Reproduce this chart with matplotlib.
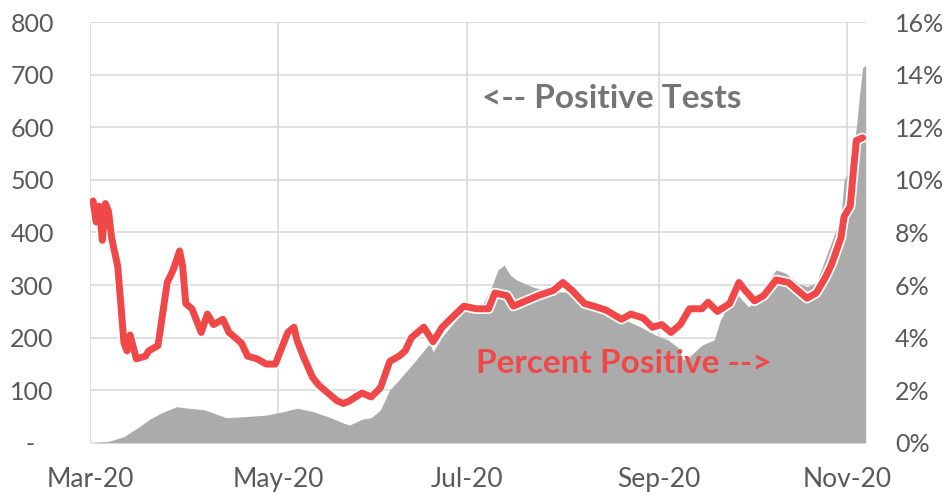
import matplotlib.pyplot as plt
import matplotlib.dates as mdates
import matplotlib.patheffects as pe
import pandas as pd
from matplotlib.ticker import FixedLocator

plt.rcParams['font.family'] = ['Lato', 'DejaVu Sans']

# positive tests (left axis)
test_dates = ['2020-03-01', '2020-03-07', '2020-03-12', '2020-03-17', '2020-03-20',
              '2020-03-24', '2020-03-29', '2020-04-02', '2020-04-07', '2020-04-10',
              '2020-04-14', '2020-04-20', '2020-04-27', '2020-05-03', '2020-05-07',
              '2020-05-12', '2020-05-17', '2020-05-22', '2020-05-24', '2020-05-28',
              '2020-05-31', '2020-06-03', '2020-06-06', '2020-06-09', '2020-06-14',
              '2020-06-19', '2020-06-20', '2020-06-23', '2020-06-28', '2020-07-01',
              '2020-07-06', '2020-07-09', '2020-07-11', '2020-07-13', '2020-07-15',
              '2020-07-17', '2020-07-22', '2020-07-28', '2020-08-02', '2020-08-06',
              '2020-08-11', '2020-08-16', '2020-08-21', '2020-08-26', '2020-08-31',
              '2020-09-04', '2020-09-07', '2020-09-09', '2020-09-11', '2020-09-15',
              '2020-09-19', '2020-09-21', '2020-09-24', '2020-09-26', '2020-09-30',
              '2020-10-02', '2020-10-05', '2020-10-09', '2020-10-12', '2020-10-16',
              '2020-10-19', '2020-10-22', '2020-10-26', '2020-10-30', '2020-10-31',
              '2020-11-02', '2020-11-04', '2020-11-05', '2020-11-06', '2020-11-07']
tests = [0, 3, 12, 31, 44, 57, 69, 66, 63, 57,
         48, 50, 53, 60, 66, 60, 50, 38, 34, 45,
         48, 63, 101, 120, 154, 190, 173, 202, 238, 257,
         262, 297, 329, 338, 319, 310, 297, 287, 287, 266,
         257, 247, 234, 221, 205, 196, 183, 158, 164, 186,
         196, 234, 266, 285, 259, 266, 297, 329, 323, 304,
         297, 304, 367, 430, 500, 519, 601, 660, 713, 718]

# percent positive (right axis)
pct_dates = ['2020-03-02', '2020-03-03', '2020-03-04', '2020-03-05', '2020-03-06',
             '2020-03-07', '2020-03-08', '2020-03-10', '2020-03-12', '2020-03-13',
             '2020-03-14', '2020-03-16', '2020-03-19', '2020-03-20', '2020-03-23',
             '2020-03-26', '2020-03-28', '2020-03-30', '2020-03-31', '2020-04-01',
             '2020-04-03', '2020-04-06', '2020-04-08', '2020-04-10', '2020-04-13',
             '2020-04-15', '2020-04-19', '2020-04-21', '2020-04-24', '2020-04-27',
             '2020-04-30', '2020-05-02', '2020-05-04', '2020-05-06', '2020-05-07',
             '2020-05-09', '2020-05-12', '2020-05-14', '2020-05-17', '2020-05-20',
             '2020-05-22', '2020-05-24', '2020-05-28', '2020-05-31', '2020-06-03',
             '2020-06-06', '2020-06-09', '2020-06-11', '2020-06-13', '2020-06-17',
             '2020-06-20', '2020-06-23', '2020-06-26', '2020-06-30', '2020-07-04',
             '2020-07-08', '2020-07-10', '2020-07-14', '2020-07-16', '2020-07-20',
             '2020-07-24', '2020-07-29', '2020-08-01', '2020-08-04', '2020-08-08',
             '2020-08-11', '2020-08-15', '2020-08-20', '2020-08-23', '2020-08-27',
             '2020-08-30', '2020-09-02', '2020-09-05', '2020-09-08', '2020-09-11',
             '2020-09-15', '2020-09-17', '2020-09-20', '2020-09-24', '2020-09-27',
             '2020-09-29', '2020-10-02', '2020-10-05', '2020-10-09', '2020-10-13',
             '2020-10-16', '2020-10-19', '2020-10-22', '2020-10-25', '2020-10-27',
             '2020-10-30', '2020-10-31', '2020-11-02', '2020-11-03', '2020-11-04',
             '2020-11-06']
pct = [9.2, 8.4, 9.0, 7.7, 9.1, 8.8, 7.8, 6.7, 3.8, 3.5,
       4.1, 3.2, 3.3, 3.5, 3.7, 6.1, 6.6, 7.3, 6.7, 5.3,
       5.1, 4.2, 4.9, 4.5, 4.7, 4.2, 3.8, 3.3, 3.2, 3.0,
       3.0, 3.6, 4.2, 4.4, 3.9, 3.3, 2.5, 2.2, 1.9, 1.6,
       1.5, 1.6, 1.9, 1.75, 2.1, 3.1, 3.3, 3.5, 4.0, 4.4,
       3.85, 4.4, 4.75, 5.2, 5.1, 5.1, 5.7, 5.6, 5.2, 5.4,
       5.6, 5.8, 6.1, 5.8, 5.3, 5.2, 5.05, 4.7, 4.9, 4.75,
       4.4, 4.5, 4.2, 4.5, 5.1, 5.1, 5.35, 5.0, 5.3, 6.1,
       5.8, 5.4, 5.6, 6.2, 6.1, 5.8, 5.5, 5.7, 6.3, 6.8,
       7.8, 8.6, 9.0, 10.3, 11.5, 11.6]

left_ticks = [0, 100, 200, 300, 400, 500, 600, 700, 800]
left_labels = ['-   ', '100', '200', '300', '400', '500', '600', '700', '800']
right_ticks = [0, 2, 4, 6, 8, 10, 12, 14, 16]
right_labels = ['0%', '2%', '4%', '6%', '8%', '10%', '12%', '14%', '16%']
month_ticks = ['2020-03-01', '2020-05-01', '2020-07-01', '2020-09-01', '2020-11-01']
month_labels = ['Mar-20', 'May-20', 'Jul-20', 'Sep-20', 'Nov-20']

txt = '#595959'
grid = '#d9d9d9'
grey = '#ababab'
red = '#f04848'

fig = plt.figure(figsize=(9.46, 4.97), dpi=100)
ax = fig.add_axes([0.0951, 0.1087, 0.820, 0.847])
ax2 = ax.twinx()

td = pd.to_datetime(test_dates)
pdt = pd.to_datetime(pct_dates)

ax.fill_between(td, 0, tests, color=grey, lw=0, zorder=2)
ax2.plot(pdt, pct, color=red, lw=5, solid_joinstyle='round', solid_capstyle='round',
         path_effects=[pe.Stroke(linewidth=7.5, foreground='white'), pe.Normal()], zorder=3)

ax.set_xlim(pd.Timestamp('2020-03-01'), pd.Timestamp('2020-11-07'))
ax.set_ylim(0, 800)
ax2.set_ylim(0, 16)

ax.set_yticks(left_ticks)
ax.set_yticklabels(left_labels)
ax2.set_yticks(right_ticks)
ax2.set_yticklabels(right_labels)
mt = mdates.date2num(pd.to_datetime(month_ticks))
ax.xaxis.set_major_locator(FixedLocator(mt))
ax.set_xticklabels(month_labels)

ax.grid(True, color=grid, lw=1.2, zorder=0)
ax.set_axisbelow(True)
for a in (ax, ax2):
    for s in a.spines.values():
        s.set_visible(False)
    a.tick_params(length=0, labelsize=18, colors=txt)
ax.tick_params(axis='y', pad=26)
ax.tick_params(axis='x', labelsize=19, pad=17)
ax2.tick_params(axis='y', pad=21)

ax2.text(0.673, 0.819, '<-- Positive Tests', transform=ax.transAxes, color='#757575',
         fontsize=24, fontweight='bold', ha='center', va='center', zorder=5)
ax2.text(0.688, 0.188, 'Percent Positive -->', transform=ax.transAxes, color=red,
         fontsize=24, fontweight='bold', ha='center', va='center', zorder=5)

fig.savefig('out.png', dpi=100)
